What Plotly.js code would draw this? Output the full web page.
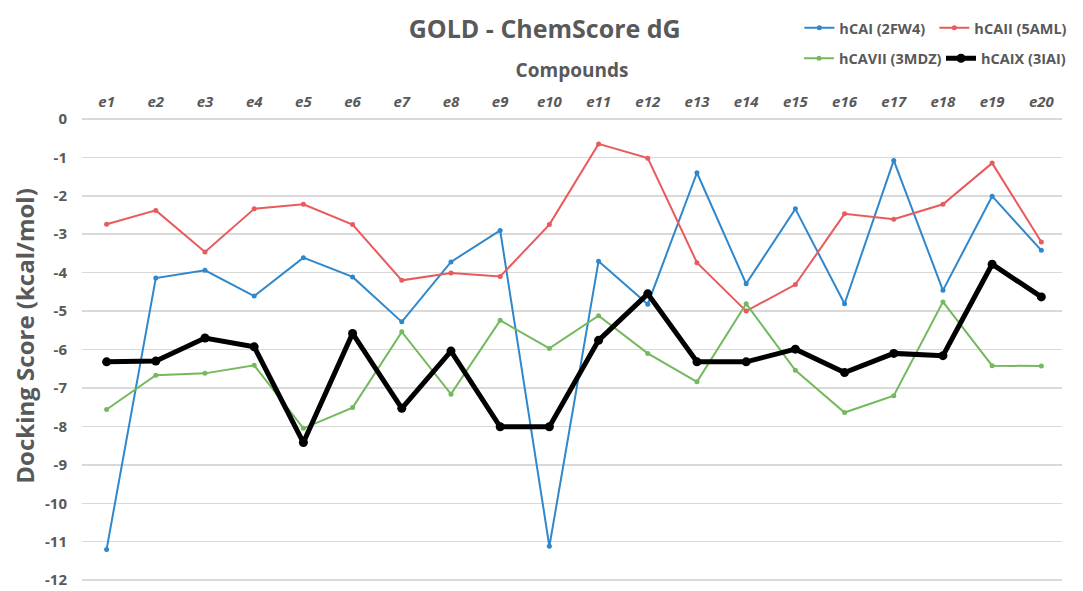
<!DOCTYPE html>
<html>
<head>
<meta charset="utf-8">
<script src="https://cdn.plot.ly/plotly-3.0.1.min.js"></script>
<style>html,body{margin:0;padding:0;background:#fff;}#chart{width:1083px;height:591px;}</style>
</head>
<body>
<div id="chart"></div>
<script>
const compounds = ["e1","e2","e3","e4","e5","e6","e7","e8","e9","e10","e11","e12","e13","e14","e15","e16","e17","e18","e19","e20"];
const hCAI   = [-11.2,-4.14,-3.94,-4.61,-3.61,-4.11,-5.28,-3.72,-2.90,-11.12,-3.70,-4.82,-1.40,-4.29,-2.34,-4.81,-1.08,-4.46,-2.01,-3.42];
const hCAII  = [-2.74,-2.38,-3.46,-2.34,-2.22,-2.75,-4.20,-4.01,-4.10,-2.75,-0.65,-1.02,-3.74,-5.00,-4.31,-2.47,-2.61,-2.22,-1.15,-3.20];
const hCAVII = [-7.56,-6.67,-6.62,-6.41,-8.05,-7.51,-5.54,-7.16,-5.24,-5.97,-5.12,-6.10,-6.84,-4.81,-6.54,-7.64,-7.20,-4.76,-6.42,-6.43];
const hCAIX  = [-6.32,-6.30,-5.70,-5.93,-8.42,-5.58,-7.53,-6.04,-8.01,-8.01,-5.76,-4.55,-6.32,-6.32,-5.99,-6.60,-6.10,-6.16,-3.78,-4.63];
const seriesNames = ["hCAI (2FW4)","hCAII (5AML)","hCAVII (3MDZ)","hCAIX (3IAI)"];
const yTickVals = [0,-1,-2,-3,-4,-5,-6,-7,-8,-9,-10,-11,-12];
const yTickText = ["0","-1","-2","-3","-4","-5","-6","-7","-8","-9","-10","-11","-12"];

const grey = "#595959";
const FONT = "Open Sans, Liberation Sans, Arial, sans-serif";

function tr(y, name, color, w, ms, leg) {
  return {x: compounds, y: y, name: name, type: "scatter", mode: "lines+markers",
    line: {color: color, width: w}, marker: {color: color, size: ms}, legend: leg};
}
const data = [
  tr(hCAI, seriesNames[0], "#2f87cc", 2, 5, "legend"),
  tr(hCAII, seriesNames[1], "#e85a5c", 2, 5, "legend"),
  tr(hCAVII, seriesNames[2], "#74b95e", 2, 5, "legend2"),
  tr(hCAIX, seriesNames[3], "#000000", 5, 9, "legend2")
];
const legFont = {size: 14.5, color: grey, family: FONT, weight: "bold"};
const layout = {
  width: 1083, height: 591,
  margin: {l: 82, r: 0, t: 117, b: 7},
  paper_bgcolor: "#fff", plot_bgcolor: "#fff",
  font: {family: FONT, color: grey},
  showlegend: true,
  title: {text: "<b>GOLD - ChemScore dG</b>", x: 0.503, xanchor: "center", y: 0.95, yanchor: "middle",
    font: {size: 25, color: grey, family: FONT}},
  xaxis: {type: "category", side: "top", range: [-0.5, 19.42],
    showgrid: false, zeroline: false, showline: false, ticks: "", ticklabelstandoff: 6,
    tickfont: {size: 15, color: grey, family: FONT, weight: "bold", style: "italic"},
    title: {text: "<b>Compounds</b>", font: {size: 19, color: grey, family: FONT}, standoff: 8}},
  yaxis: {range: [-12.1, 0.05], tickmode: "array", tickvals: yTickVals, ticktext: yTickText,
    showgrid: true, gridcolor: "#d9d9d9", gridwidth: 1.5, ticklabeloverflow: "allow",
    zeroline: false, showline: false, ticks: "", ticklabelstandoff: 14,
    tickfont: {size: 15, color: grey, family: FONT, weight: "bold"}},
  annotations: [{text: "<b>Docking Score (kcal/mol)</b>", xref: "paper", yref: "paper",
    x: -0.059, y: 0.53, xanchor: "center", yanchor: "middle", textangle: -90, showarrow: false,
    font: {size: 24, color: grey, family: FONT}}],
  legend: {orientation: "h", x: 0.732, y: 1.225, xanchor: "left", yanchor: "top",
    font: legFont, entrywidth: 90, entrywidthmode: "pixels",
    itemwidth: 30, bgcolor: "rgba(0,0,0,0)"},
  legend2: {orientation: "h", x: 0.732, y: 1.16, xanchor: "left", yanchor: "top",
    font: legFont, entrywidth: 97, entrywidthmode: "pixels",
    itemwidth: 30, bgcolor: "rgba(0,0,0,0)"}
};
Plotly.newPlot("chart", data, layout, {displayModeBar: false, staticPlot: true});
</script>
</body>
</html>
